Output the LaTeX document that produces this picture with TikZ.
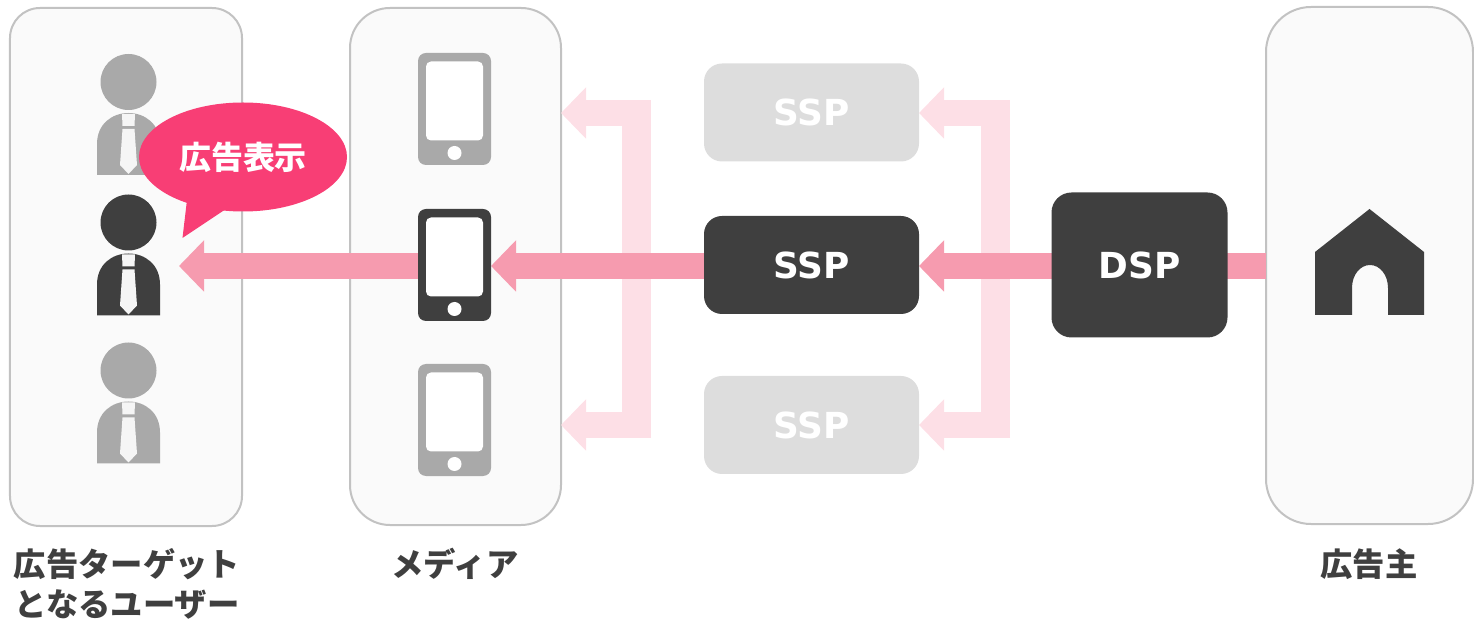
\documentclass[tikz,border=0pt]{standalone}
\usepackage{fontspec}
\setmainfont{DejaVu Sans}
\newfontfamily\cjk{Noto Sans CJK JP}
\usetikzlibrary{arrows.meta,shapes.geometric}
\pgfdeclarelayer{back}
\pgfsetlayers{back,main}
\definecolor{inkdark}{HTML}{3F3F3F}
\definecolor{inkgray}{HTML}{A9A9A9}
\definecolor{boxgray}{HTML}{DDDDDD}
\definecolor{panelfill}{HTML}{FAFAFA}
\definecolor{panelline}{HTML}{C2C2C2}
\definecolor{hotpink}{HTML}{F83E75}
\definecolor{midpink}{HTML}{F69BAF}
\definecolor{palepink}{HTML}{FDDFE6}
\tikzset{
    panel/.style={draw=panelline, fill=panelfill, line width=.4mm, inner sep=0pt, outer sep=0pt},
    flowbox/.style={rounded corners=3.6mm, minimum width=43mm, minimum height=19.6mm, inner sep=0pt, outer sep=0pt, font=\fontsize{20.4pt}{22pt}\bfseries},
    midarrow/.style={draw=midpink, line width=5.2mm, -{Triangle[length=5mm,width=10mm]}},
    palearrow/.style={draw=palepink, line width=5.2mm, -{Triangle[length=5mm,width=10mm]}},
    palestem/.style={draw=palepink, line width=5.8mm},
    caption/.style={font=\fontsize{18.4pt}{23pt}\cjk\bfseries, text=inkdark, align=center, inner sep=0pt},
}
\begin{document}
\begin{tikzpicture}[x=.2mm,y=-.2mm]
    \useasboundingbox (0,0) rectangle (1474,619);

    % Panels
    \begin{pgfonlayer}{back}
        \node[panel, rounded corners=6mm, minimum width=46.4mm, minimum height=103.6mm] (users) at (126,267) {};
        \node[panel, rounded corners=8mm, minimum width=42.2mm, minimum height=103.4mm] (media) at (455.5,266.5) {};
        \node[panel, rounded corners=9mm, minimum width=41.4mm, minimum height=103.4mm] (advertiser) at (1369.5,265.5) {};
    \end{pgfonlayer}

    % SSP and DSP
    \node[flowbox, fill=boxgray, text=white] (ssp1) at (811.5,112.5) {SSP};
    \node[flowbox, fill=inkdark, text=white] (ssp2) at (811.5,265) {SSP};
    \node[flowbox, fill=boxgray, text=white] (ssp3) at (811.5,425) {SSP};
    \node[flowbox, fill=inkdark, text=white, rounded corners=4mm, minimum width=35.2mm, minimum height=29mm] (dsp) at (1139.5,265) {DSP};

    % Phones
    \foreach \n/\cy/\col in {1/109/inkgray, 2/265/inkdark, 3/420/inkgray} {
        \node[fill=\col, rounded corners=1.6mm, minimum width=14.6mm, minimum height=22.4mm, inner sep=0pt, outer sep=0pt] (phone\n) at (454.5,\cy) {};
        \node[fill=white, rounded corners=1mm, minimum width=11.4mm, minimum height=15.8mm, inner sep=0pt] (screen\n) at (454.5,\cy-8) {};
        \node[fill=white, circle, minimum size=2.8mm, inner sep=0pt] (button\n) at (454.5,\cy+44) {};
    }

    % Arrows
    \coordinate (forkAtop) at (636.5,100);
    \coordinate (forkAbot) at (636.5,438);
    \coordinate (forkBtop) at (995.5,100);
    \coordinate (forkBbot) at (995.5,438);
    \coordinate (forkAup) at (651,113);
    \coordinate (forkAdown) at (651,425);
    \coordinate (forkBup) at (1010,113);
    \coordinate (forkBdown) at (1010,425);
    \coordinate (flowstart) at (1266,266);
    \coordinate (flowend) at (179,266);
    \begin{pgfonlayer}{back}
        \draw[palestem] (forkAtop) -- (forkAbot);
        \draw[palestem] (forkBtop) -- (forkBbot);
        \draw[palearrow] (forkAup) -- (media.east |- forkAup);
        \draw[palearrow] (forkAdown) -- (media.east |- forkAdown);
        \draw[palearrow] (forkBup) -- (ssp1.east |- forkBup);
        \draw[palearrow] (forkBdown) -- (ssp3.east |- forkBdown);
        \draw[midarrow] (flowstart) -- (ssp2.east |- flowstart);
        \draw[midarrow] (ssp2.west |- flowstart) -- (phone2.east |- flowstart);
        \draw[midarrow] (phone2.west |- flowstart) -- (flowend);
    \end{pgfonlayer}

    % Users
    \foreach \n/\cy/\col in {1/82/inkgray, 2/222.5/inkdark, 3/370.5/inkgray} {
        \node[fill=\col, circle, minimum size=11.2mm, inner sep=0pt] (head\n) at (128.5,\cy) {};
        \fill[\col] (97,\cy+93) -- (97,\cy+62) .. controls (97,\cy+42) and (112,\cy+31) .. (128.5,\cy+31)
            .. controls (145,\cy+31) and (160,\cy+42) .. (160,\cy+62) -- (160,\cy+93) -- cycle;
        \fill[white!96!black] (122,\cy+32) -- (135,\cy+32) -- (134.5,\cy+44) -- (122.5,\cy+44) -- cycle;
        \fill[white!96!black] (122.5,\cy+47) -- (134.5,\cy+47) -- (137,\cy+83) -- (128.5,\cy+92) -- (120,\cy+83) -- cycle;
    }

    % Balloon
    \fill[hotpink] (187,200) -- (182.5,238) -- (226,209) -- cycle;
    \node[ellipse, fill=hotpink, text=white, minimum width=41.6mm, minimum height=21.8mm, inner sep=0pt, font=\fontsize{18.2pt}{20pt}\cjk\bfseries] (balloon) at (243,157) {広告表示};

    % House
    \fill[inkdark] (1315,252) -- (1369.5,209) -- (1424,252) -- (1424,315) -- (1388,315) -- (1388,288)
        .. controls (1388,275) and (1380,265) .. (1370,265)
        .. controls (1360,265) and (1352,275) .. (1352,288) -- (1352,315) -- (1315,315) -- cycle;

    % Captions
    \node[caption] (userslabel) at (127,584) {広告ターゲット\\となるユーザー};
    \node[caption] (medialabel) at (455,564) {メディア};
    \node[caption] (advertiserlabel) at (1369,564) {広告主};
\end{tikzpicture}
\end{document}
